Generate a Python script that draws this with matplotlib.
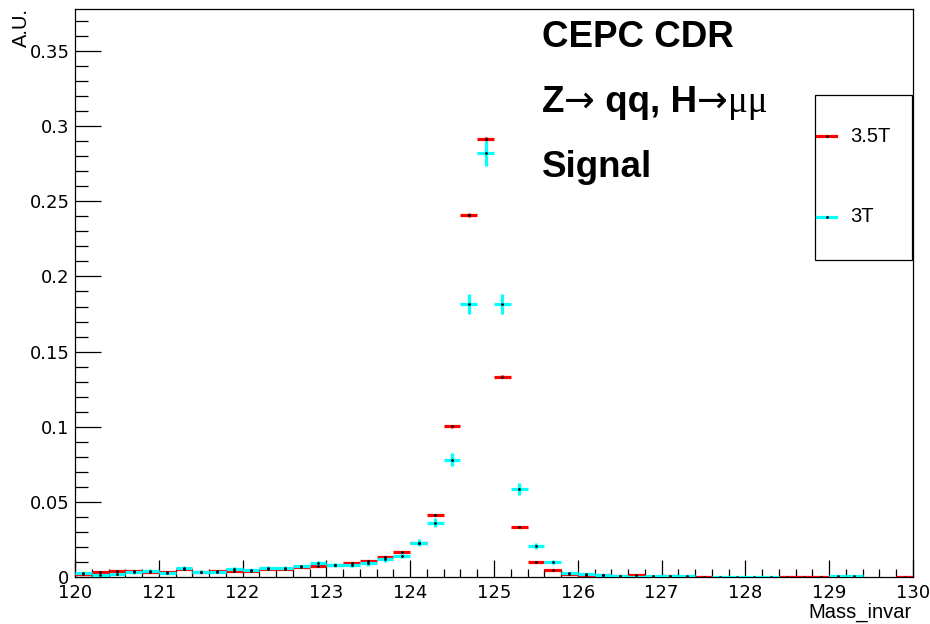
import numpy as np
import matplotlib
matplotlib.use("Agg")
import matplotlib.pyplot as plt
from matplotlib.ticker import MultipleLocator, FuncFormatter
from matplotlib.transforms import IdentityTransform
from matplotlib.patches import Rectangle
from matplotlib.lines import Line2D

# ---------------- data ----------------
bin_edges = np.round(np.arange(120.0, 130.0001, 0.2), 3)
bin_centers = (bin_edges[:-1] + bin_edges[1:]) / 2

red_35T = [0.0020, 0.0035, 0.0040, 0.0038, 0.0035, 0.0035, 0.0050, 0.0030, 0.0042, 0.0040,
           0.0040, 0.0055, 0.0055, 0.0065, 0.0075, 0.0080, 0.0095, 0.0109, 0.0131, 0.0167,
           0.0228, 0.0415, 0.1002, 0.2408, 0.2914, 0.1333, 0.0333, 0.0100, 0.0045, 0.0022,
           0.0015, 0.0012, 0.0005, 0.0012, 0.0003, 0.0005, 0.0003, 0.0003, 0.0, 0.0,
           0.0, 0.0, 0.0003, 0.0003, 0.0003, 0.0, 0.0, 0.0, 0.0, 0.0002]
cyan_3T = [0.0028, 0.0015, 0.0020, 0.0030, 0.0040, 0.0025, 0.0058, 0.0035, 0.0035, 0.0055,
           0.0045, 0.0060, 0.0058, 0.0070, 0.0090, 0.0080, 0.0080, 0.0091, 0.0118, 0.0142,
           0.0229, 0.0360, 0.0780, 0.1818, 0.2819, 0.1818, 0.0585, 0.0207, 0.0100, 0.0025,
           0.0020, 0.0012, 0.0008, 0.0003, 0.0008, 0.0008, 0.0005, 0.0, 0.0003, 0.0003,
           0.0003, 0.0003, 0.0, 0.0, 0.0, 0.0004, 0.0004, 0.0, 0.0, 0.0]
labels = ["3.5T", "3T"]
x_ticks = [120, 121, 122, 123, 124, 125, 126, 127, 128, 129, 130]
y_ticks = [0, 0.05, 0.1, 0.15, 0.2, 0.25, 0.3, 0.35]

W, H = 930, 624
fig = plt.figure(figsize=(W / 100, H / 100), dpi=100)
L, R, T, B = 75, 913, 9, 577
ax = fig.add_axes([L / W, 1 - B / H, (R - L) / W, (B - T) / H])

FONT = ["Liberation Sans", "DejaVu Sans"]
plt.rcParams["font.family"] = FONT

def draw_hist(vals, color, k):
    v = np.array(vals)
    m = v > 0
    xc = bin_centers[m]
    yv = v[m]
    err = k * np.sqrt(yv)
    ax.errorbar(xc, yv, xerr=0.1, yerr=err, fmt="none", ecolor=color,
                elinewidth=2.3, capsize=0, zorder=3)
    ax.plot(xc, yv, ls="none", marker="o", ms=1.0, color="black", zorder=4)

draw_hist(red_35T, "#ff0000", 0.0025)
draw_hist(cyan_3T, "#00ffff", 0.0157)

ax.set_xlim(120, 130)
ax.set_ylim(0, 0.378)
ax.set_xticks(x_ticks)
ax.set_yticks(y_ticks)
ax.xaxis.set_minor_locator(MultipleLocator(0.2))
ax.yaxis.set_minor_locator(MultipleLocator(0.01))
ax.yaxis.set_major_formatter(FuncFormatter(lambda v, p: f"{v:g}"))
ax.xaxis.set_major_formatter(FuncFormatter(lambda v, p: f"{v:g}"))
ax.tick_params(axis="both", which="both", direction="in", width=0.9,
               top=False, right=False, labelsize=13, colors="black")
ax.tick_params(axis="y", which="major", length=18.7, pad=4)
ax.tick_params(axis="y", which="minor", length=9.4)
ax.tick_params(axis="x", which="major", length=12.2, pad=5)
ax.tick_params(axis="x", which="minor", length=5.8)
for s in ax.spines.values():
    s.set_linewidth(0.9)

# axis titles
fig.text(21 / W, 1 - 8 / H, "A.U.", rotation=90, ha="center", va="top", fontsize=14.5)
fig.text(912 / W, 1 - 612 / H, "Mass_invar", ha="right", va="center", fontsize=14.5)

# big labels
fig.canvas.draw()
renderer = fig.canvas.get_renderer()
ident = IdentityTransform()
TSIZE = 26.5

def chain(x, y, pieces):
    for s, fam, wt in pieces:
        t = fig.text(x, y, s, transform=ident, ha="left", va="baseline",
                     fontsize=TSIZE, family=fam, fontweight=wt)
        bb = t.get_window_extent(renderer)
        x = bb.x1

chain(542, H - 47, [("CEPC CDR", FONT, "bold")])
chain(542, H - 112, [("Z", FONT, "bold"), ("\u2192", ["DejaVu Sans"], "normal"),
                     (" qq, H", FONT, "bold"),
                     ("\u2192", ["DejaVu Sans"], "normal"),
                     ("\u03bc\u03bc", ["Liberation Serif", "DejaVu Serif"], "normal")])
chain(542, H - 177, [("Signal", FONT, "bold")])

# legend
lx0, ly0, lx1, ly1 = 815, 95, 912, 260
fig.add_artist(Rectangle((lx0 / W, 1 - ly1 / H), (lx1 - lx0) / W, (ly1 - ly0) / H,
                         transform=fig.transFigure, facecolor="white",
                         edgecolor="black", linewidth=0.9, zorder=10))
for lab, col, yy in [(labels[0], "#ff0000", 136), (labels[1], "#00ffff", 217)]:
    fig.add_artist(Line2D([817 / W, 836 / W], [1 - yy / H, 1 - yy / H], color=col,
                          linewidth=2.3, transform=fig.transFigure, zorder=11))
    fig.add_artist(Line2D([826.5 / W], [1 - yy / H], marker="o", ms=1.0, color="black",
                          transform=fig.transFigure, zorder=12))
    fig.text(850 / W, 1 - yy / H, lab, ha="left", va="center", fontsize=14.5, zorder=12)

fig.savefig("out.png", dpi=100)
